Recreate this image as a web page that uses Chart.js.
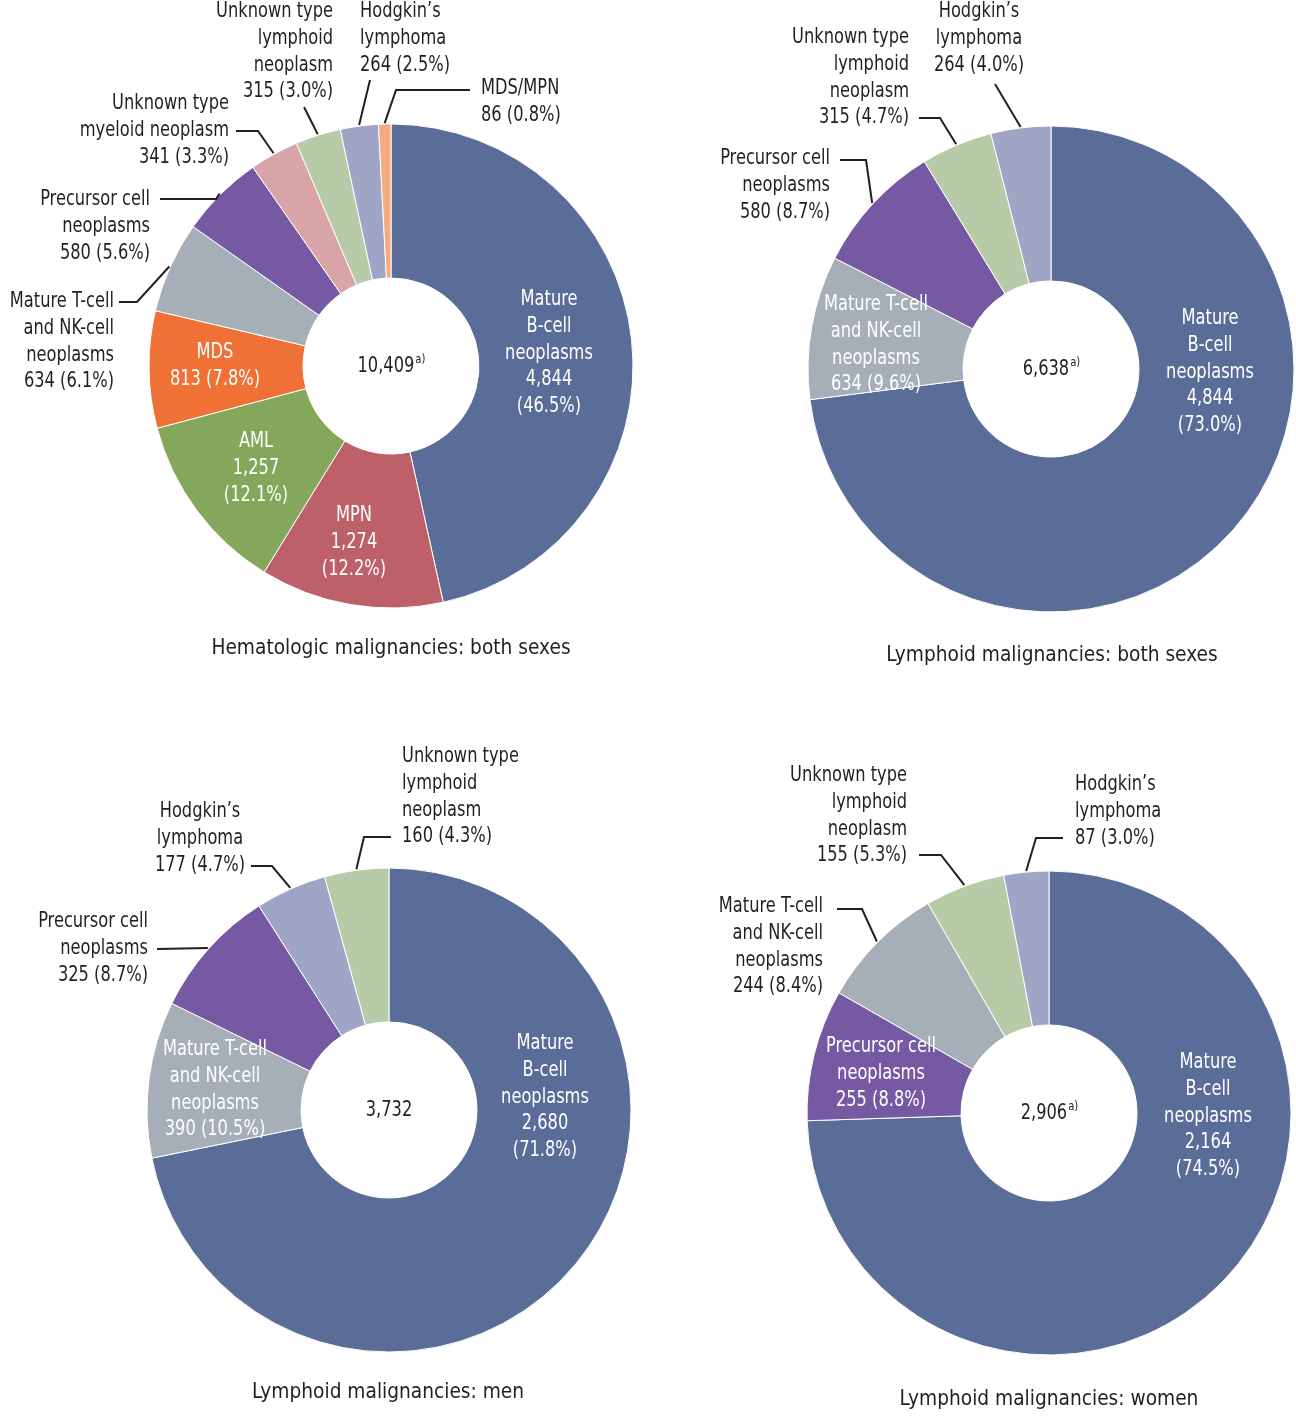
<!DOCTYPE html>
<html>
<head>
<meta charset="utf-8">
<script src="https://cdn.jsdelivr.net/npm/chart.js@4.4.1/dist/chart.umd.min.js"></script>
<style>
  html, body { margin: 0; padding: 0; background: #fff; }
  #wrap { position: relative; width: 1296px; height: 1416px; }
  .cell { position: absolute; width: 648px; height: 708px; }
</style>
</head>
<body>
<div id="wrap">
  <div class="cell" style="left:0;top:0"><canvas id="c1" width="648" height="708"></canvas></div>
  <div class="cell" style="left:648px;top:0"><canvas id="c2" width="648" height="708"></canvas></div>
  <div class="cell" style="left:0;top:708px"><canvas id="c3" width="648" height="708"></canvas></div>
  <div class="cell" style="left:648px;top:708px"><canvas id="c4" width="648" height="708"></canvas></div>
</div>
<script>
// data
const hemLabels = ['Mature\nB-cell\nneoplasms', 'MPN', 'AML', 'MDS', 'Mature T-cell\nand NK-cell\nneoplasms',
  'Precursor cell\nneoplasms', 'Unknown type\nmyeloid neoplasm', 'Unknown type\nlymphoid\nneoplasm', 'Hodgkin\u2019s\nlymphoma', 'MDS/MPN'];
const hemValues = [4844, 1274, 1257, 813, 634, 580, 341, 315, 264, 86];
const hemTotal = 10409;

const lymLabels = ['Mature\nB-cell\nneoplasms', 'Mature T-cell\nand NK-cell\nneoplasms', 'Precursor cell\nneoplasms',
  'Unknown type\nlymphoid\nneoplasm', 'Hodgkin\u2019s\nlymphoma'];
const lymValues = [4844, 634, 580, 315, 264];
const lymTotal = 6638;

const menLabels = ['Mature\nB-cell\nneoplasms', 'Mature T-cell\nand NK-cell\nneoplasms', 'Precursor cell\nneoplasms',
  'Hodgkin\u2019s\nlymphoma', 'Unknown type\nlymphoid\nneoplasm'];
const menValues = [2680, 390, 325, 177, 160];
const menTotal = 3732;

const womenLabels = ['Mature\nB-cell\nneoplasms', 'Precursor cell\nneoplasms', 'Mature T-cell\nand NK-cell\nneoplasms',
  'Unknown type\nlymphoid\nneoplasm', 'Hodgkin\u2019s\nlymphoma'];
const womenValues = [2164, 255, 244, 155, 87];
const womenTotal = 2906;

const titles = ['Hematologic malignancies: both sexes', 'Lymphoid malignancies: both sexes',
  'Lymphoid malignancies: men', 'Lymphoid malignancies: women'];

// colours per category
const colorOf = {
  'Mature\nB-cell\nneoplasms': '#5a6c98',
  'MPN': '#bd6069',
  'AML': '#84a75b',
  'MDS': '#ef7136',
  'Mature T-cell\nand NK-cell\nneoplasms': '#a6aeb7',
  'Precursor cell\nneoplasms': '#7559a3',
  'Unknown type\nmyeloid neoplasm': '#d9a4a7',
  'Unknown type\nlymphoid\nneoplasm': '#b8cba8',
  'Hodgkin\u2019s\nlymphoma': '#a1a5c5',
  'MDS/MPN': '#f5ab7e'
};

const FONT = '"Liberation Sans Narrow", "DejaVu Sans Condensed", "Roboto", sans-serif';
const INK = '#231f20';
const LINE_H = 26.6;
const SQUEEZE = 0.86;   // condensed look
const W = '#ffffff';

// label placement (page coordinates, y = middle of first line)
const hemPlace = [
  { x: 549, y: 300, align: 'center', color: W, split: true },
  { x: 354, y: 516, align: 'center', color: W, split: true },
  { x: 256, y: 442, align: 'center', color: W, split: true },
  { x: 215, y: 353, align: 'center', color: W },
  { x: 114, y: 302, align: 'right', leader: [[119, 302], [137, 302]] },
  { x: 150, y: 200, align: 'right', leader: [[160, 199], [216, 199]] },
  { x: 229, y: 104, align: 'right', leader: [[236, 131], [258, 131]] },
  { x: 333, y: 12, align: 'right', leader: [[304, 107]] },
  { x: 360, y: 12, align: 'left', leader: [[370, 80]] },
  { x: 481, y: 89, align: 'left', leader: [[470, 90], [396, 90]] }
];
const lymPlace = [
  { x: 1210, y: 319, align: 'center', color: W, split: true },
  { x: 876, y: 305, align: 'center', color: W },
  { x: 830, y: 159, align: 'right', leader: [[840, 160], [866, 160]] },
  { x: 909, y: 38, align: 'right', leader: [[919, 118], [940, 118]] },
  { x: 979, y: 12, align: 'center', leader: [[995, 84]] }
];
const menPlace = [
  { x: 545, y: 1044, align: 'center', color: W, split: true },
  { x: 215, y: 1050, align: 'center', color: W },
  { x: 148, y: 922, align: 'right', leader: [[157, 949]] },
  { x: 200, y: 812, align: 'center', leader: [[251, 866], [272, 866]] },
  { x: 402, y: 757, align: 'left', leader: [[391, 837], [364, 837]] }
];
const womenPlace = [
  { x: 1208, y: 1063, align: 'center', color: W, split: true },
  { x: 881, y: 1047, align: 'center', color: W },
  { x: 823, y: 907, align: 'right', leader: [[837, 909], [862, 909]] },
  { x: 907, y: 776, align: 'right', leader: [[919, 855], [941, 855]] },
  { x: 1075, y: 785, align: 'left', leader: [[1063, 838], [1036, 838]] }
];

// horizontally squeezed text, anchored at (x, y)
function squeezed(ctx, text, x, y, sx) {
  ctx.save();
  ctx.translate(x, y);
  ctx.scale(sx, 1);
  ctx.fillText(text, 0, 0);
  ctx.restore();
}

// draws slice labels, leader lines, centre total and title
const labelPlugin = {
  id: 'sliceLabels',
  afterDatasetsDraw(chart, args, o) {
    const ctx = chart.ctx;
    const meta = chart.getDatasetMeta(0);
    const values = chart.data.datasets[0].data;
    ctx.save();
    ctx.textBaseline = 'middle';
    chart.data.labels.forEach((name, i) => {
      const p = o.place[i];
      const v = values[i];
      const num = v.toLocaleString('en-US');
      const pct = '(' + (v / o.total * 100).toFixed(1) + '%)';
      const lines = name.split('\n');
      if (p.split) lines.push(num, pct); else lines.push(num + ' ' + pct);
      ctx.font = '21px ' + FONT;
      ctx.fillStyle = p.color || INK;
      ctx.textAlign = p.align;
      lines.forEach((t, k) => squeezed(ctx, t, p.x - o.ox, p.y - o.oy + k * LINE_H, SQUEEZE));
      if (p.leader) {
        const arc = meta.data[i];
        const mid = (arc.startAngle + arc.endAngle) / 2;
        ctx.beginPath();
        p.leader.forEach(([lx, ly], k) => {
          if (k === 0) ctx.moveTo(lx - o.ox, ly - o.oy); else ctx.lineTo(lx - o.ox, ly - o.oy);
        });
        ctx.lineTo(arc.x + Math.cos(mid) * (arc.outerRadius + 1), arc.y + Math.sin(mid) * (arc.outerRadius + 1));
        ctx.strokeStyle = INK;
        ctx.lineWidth = 2;
        ctx.stroke();
      }
    });
    // centre total
    const cx = meta.data[0].x, cy = meta.data[0].y;
    const main = o.total.toLocaleString('en-US');
    ctx.font = '21px ' + FONT;
    const mw = ctx.measureText(main).width * SQUEEZE;
    ctx.font = '13px ' + FONT;
    const sw = o.note ? ctx.measureText('a)').width * SQUEEZE : 0;
    const left = cx - (mw + sw) / 2;
    ctx.fillStyle = INK;
    ctx.textAlign = 'left';
    ctx.font = '21px ' + FONT;
    squeezed(ctx, main, left, cy + 1, SQUEEZE);
    if (o.note) {
      ctx.font = '13px ' + FONT;
      squeezed(ctx, 'a)', left + mw + 1, cy - 6, SQUEEZE);
    }
    // title under the ring
    ctx.font = '22px ' + FONT;
    ctx.textAlign = 'center';
    squeezed(ctx, o.title, o.tx - o.ox, o.ty - o.oy, 0.94);
    ctx.restore();
  }
};

function makeChart(id, labels, values, total, place, geo) {
  const ox = geo.ox, oy = geo.oy, r = geo.r + 0.5;
  const lx = geo.cx - ox, ly = geo.cy - oy;
  new Chart(document.getElementById(id), {
    type: 'doughnut',
    data: {
      labels: labels,
      datasets: [{
        data: values,
        backgroundColor: labels.map(l => colorOf[l]),
        borderColor: '#ffffff',
        borderWidth: 1
      }]
    },
    options: {
      responsive: false,
      animation: false,
      cutout: 88,
      layout: {
        padding: { left: lx - r, top: ly - r, right: 648 - (lx + r), bottom: 708 - (ly + r) }
      },
      plugins: {
        legend: { display: false },
        tooltip: { enabled: false },
        sliceLabels: {
          ox: ox, oy: oy, total: total, place: place, note: geo.note,
          title: geo.title, tx: geo.tx, ty: geo.ty
        }
      }
    },
    plugins: [labelPlugin]
  });
}

makeChart('c1', hemLabels, hemValues, hemTotal, hemPlace,
  { ox: 0, oy: 0, cx: 391, cy: 366, r: 242, note: true, title: titles[0], tx: 391, ty: 648 });
makeChart('c2', lymLabels, lymValues, lymTotal, lymPlace,
  { ox: 648, oy: 0, cx: 1051, cy: 369, r: 243, note: true, title: titles[1], tx: 1052, ty: 655 });
makeChart('c3', menLabels, menValues, menTotal, menPlace,
  { ox: 0, oy: 708, cx: 389, cy: 1110, r: 242, note: false, title: titles[2], tx: 388, ty: 1392 });
makeChart('c4', womenLabels, womenValues, womenTotal, womenPlace,
  { ox: 648, oy: 708, cx: 1049, cy: 1113, r: 242, note: true, title: titles[3], tx: 1049, ty: 1399 });
</script>
</body>
</html>
